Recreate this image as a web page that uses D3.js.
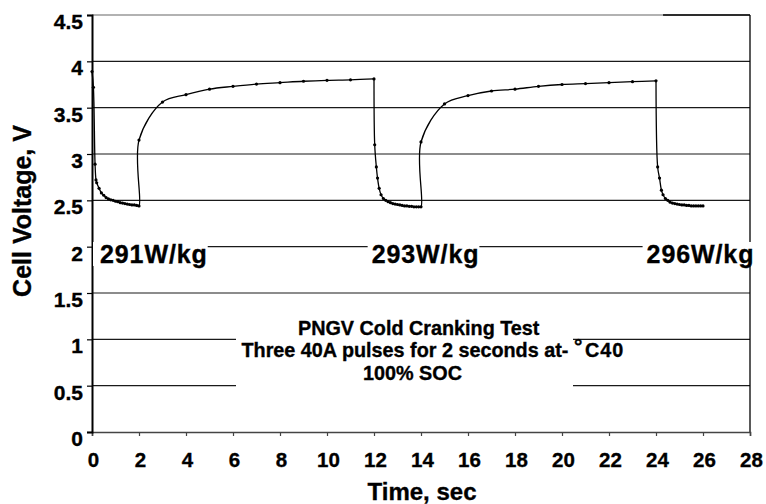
<!DOCTYPE html>
<html>
<head>
<meta charset="utf-8">
<script src="https://cdn.jsdelivr.net/npm/d3@7"></script>
<style>
  body { margin: 0; background: #fff; }
  svg { display: block; }
  text { font-family: "Liberation Sans", Arial, Helvetica, sans-serif; font-weight: bold; fill: #000; stroke: #000; stroke-width: 0.35px; }
</style>
</head>
<body>
<svg id="chart" width="766" height="504"></svg>
<script>
// Axis ticks
const xTicks = [0, 2, 4, 6, 8, 10, 12, 14, 16, 18, 20, 22, 24, 26, 28];
const yTicks = [0, 0.5, 1, 1.5, 2, 2.5, 3, 3.5, 4, 4.5];
const yTickLabels = ["0", "0.5", "1", "1.5", "2", "2.5", "3", "3.5", "4", "4.5"];

// Cell voltage (V) vs time (s): three 2-second 40A discharge pulses with rest between
const pulse1 = [
  [0.00, 3.89], [0.06, 3.72], [0.13, 2.89], [0.17, 2.72], [0.20, 2.69], [0.30, 2.63],
  [0.40, 2.58], [0.50, 2.555], [0.60, 2.53], [0.70, 2.515], [0.80, 2.505], [0.90, 2.50],
  [1.00, 2.49], [1.10, 2.485], [1.20, 2.475], [1.30, 2.47], [1.40, 2.465], [1.50, 2.46],
  [1.60, 2.455], [1.70, 2.45], [1.80, 2.45], [1.90, 2.445], [2.00, 2.44]
];
const rest1 = [
  [2.00, 3.15], [3, 3.56], [4, 3.64], [5, 3.70], [6, 3.73], [7, 3.755],
  [8, 3.77], [9, 3.785], [10, 3.795], [11, 3.80], [12, 3.81]
];
const pulse2 = [
  [12.03, 3.10], [12.10, 2.86], [12.15, 2.74], [12.22, 2.63], [12.30, 2.56], [12.40, 2.52],
  [12.50, 2.50], [12.60, 2.485], [12.70, 2.475], [12.80, 2.465], [12.90, 2.46], [13.00, 2.455],
  [13.10, 2.45], [13.20, 2.445], [13.30, 2.44], [13.40, 2.44], [13.50, 2.435], [13.60, 2.435],
  [13.70, 2.43], [13.80, 2.43], [13.90, 2.43], [14.00, 2.43]
];
const rest2 = [
  [14.00, 3.13], [15, 3.54], [16, 3.63], [17, 3.68], [18, 3.70], [19, 3.73],
  [20, 3.75], [21, 3.76], [22, 3.77], [23, 3.78], [24, 3.79]
];
const pulse3 = [
  [24.07, 2.86], [24.15, 2.74], [24.23, 2.61], [24.30, 2.56], [24.40, 2.52], [24.50, 2.50],
  [24.60, 2.48], [24.70, 2.47], [24.80, 2.465], [24.90, 2.46], [25.00, 2.455], [25.10, 2.45],
  [25.20, 2.45], [25.30, 2.445], [25.40, 2.445], [25.50, 2.44], [25.60, 2.44], [25.70, 2.44],
  [25.80, 2.44], [25.90, 2.44], [26.00, 2.44]
];

// Specific power reached in each pulse
const powerLabels = ["291W/kg", "293W/kg", "296W/kg"];

// Test description
const noteLines = ["PNGV Cold Cranking Test", "Three 40A pulses for 2 seconds at-", "100% SOC"];
const noteTemp = "C40";

const svg = d3.select("#chart");
const W = 766, H = 504;
const margin = { top: 15, right: 16, bottom: 72, left: 92 };

const x = d3.scaleLinear().domain([0, 28]).range([margin.left, W - margin.right]);
const y = d3.scaleLinear().domain([0, 4.5]).range([H - margin.bottom, margin.top]);

// Horizontal gridlines
svg.append("g")
  .selectAll("line")
  .data(yTicks.filter(d => d > 0))
  .join("line")
  .attr("x1", x(0)).attr("x2", x(28))
  .attr("y1", d => y(d)).attr("y2", d => y(d))
  .attr("stroke", d => d === 4.5 ? "#666" : "#1a1a1a")
  .attr("stroke-width", 1.2);

// dark piece of the top frame at the right
svg.append("line")
  .attr("x1", x(24.3)).attr("x2", x(28))
  .attr("y1", y(4.5)).attr("y2", y(4.5))
  .attr("stroke", "#000").attr("stroke-width", 1.6);

// Right frame
svg.append("line")
  .attr("x1", x(28)).attr("x2", x(28))
  .attr("y1", y(4.5)).attr("y2", y(0))
  .attr("stroke", "#000").attr("stroke-width", 1.3);

// X axis
const xAxis = svg.append("g")
  .attr("transform", `translate(0,${y(0)})`)
  .call(d3.axisBottom(x).tickValues(xTicks).tickFormat(d3.format("d")).tickSize(4).tickPadding(18));
xAxis.select(".domain").attr("stroke", "#444").attr("stroke-width", 1.6);
xAxis.selectAll(".tick line").attr("stroke", "#444").attr("stroke-width", 1.2);
xAxis.selectAll(".tick text")
  .attr("font-size", 20.5).attr("font-family", null).attr("dy", null)
  .attr("y", 35).attr("dx", 1);

// Y axis
const yAxis = svg.append("g")
  .attr("transform", `translate(${x(0)},0)`)
  .call(d3.axisLeft(y).tickValues(yTicks).tickFormat((d, i) => yTickLabels[i]).tickSize(5).tickPadding(10));
yAxis.select(".domain").attr("stroke", "#000").attr("stroke-width", 2);
yAxis.selectAll(".tick line").attr("stroke", "#000").attr("stroke-width", 1.2).attr("x2", -5).attr("x1", 1);
yAxis.selectAll(".tick text")
  .attr("font-size", 21).attr("font-family", null).attr("dy", null)
  .attr("y", 13.5).attr("x", -9);

// Axis titles
svg.append("text")
  .attr("x", (x(0) + x(28)) / 2 + 1).attr("y", 500)
  .attr("text-anchor", "middle").attr("font-size", 24)
  .text("Time, sec");
svg.append("text")
  .attr("transform", `translate(31,211) rotate(-90)`)
  .attr("text-anchor", "middle").attr("font-size", 25)
  .text("Cell Voltage, V");

// Voltage trace: smoothed through each pulse-and-recovery, with a sharp break
// where the next discharge pulse starts
const series = [].concat(pulse1, rest1, pulse2, rest2, pulse3);
const segments = [
  [].concat(pulse1, rest1),
  [rest1[rest1.length - 1]].concat(pulse2, rest2),
  [rest2[rest2.length - 1]].concat(pulse3)
];
const line = d3.line()
  .x(d => x(d[0])).y(d => y(d[1]))
  .curve(d3.curveCatmullRom.alpha(0.5));

svg.append("g")
  .selectAll("path")
  .data(segments)
  .join("path")
  .attr("d", line)
  .attr("fill", "none")
  .attr("stroke", "#000")
  .attr("stroke-width", 1.3);

svg.append("g")
  .selectAll("circle")
  .data(series)
  .join("circle")
  .attr("cx", d => x(d[0])).attr("cy", d => y(d[1]))
  .attr("r", 1.6)
  .attr("fill", "#000");

// Power labels on the 2 V gridline, each on a white backing
const labelStarts = [0.34, 11.9, 23.6];
const labelG = svg.append("g");
powerLabels.forEach((lab, i) => {
  const g = labelG.append("g");
  const bg = g.append("rect").attr("fill", "#fff");
  const t = g.append("text")
    .attr("x", x(labelStarts[i])).attr("y", y(1.824))
    .attr("font-size", 25)
    .attr("letter-spacing", 0.9)
    .text(lab);
  const b = t.node().getBBox();
  const left = i === 0 ? x(0) + 1 : b.x - 4;
  bg.attr("x", left).attr("y", b.y + 2)
    .attr("width", b.x + b.width - left).attr("height", b.height - 4);
});

// Note box
svg.append("rect")
  .attr("x", 236).attr("y", 302)
  .attr("width", 337).attr("height", 96)
  .attr("fill", "#fff");

const noteX = [298, 241.5, 363];
const noteY = [335, 357.3, 380];
noteLines.forEach((s, i) => {
  svg.append("text")
    .attr("x", noteX[i]).attr("y", noteY[i])
    .attr("font-size", 19.8)
    .text(s);
});
svg.append("text")
  .attr("x", 574).attr("y", 353)
  .attr("font-size", 21)
  .text("°");
svg.append("text")
  .attr("x", 585).attr("y", 357.3)
  .attr("font-size", 19.8)
  .attr("letter-spacing", 1)
  .text(noteTemp);
</script>
</body>
</html>
